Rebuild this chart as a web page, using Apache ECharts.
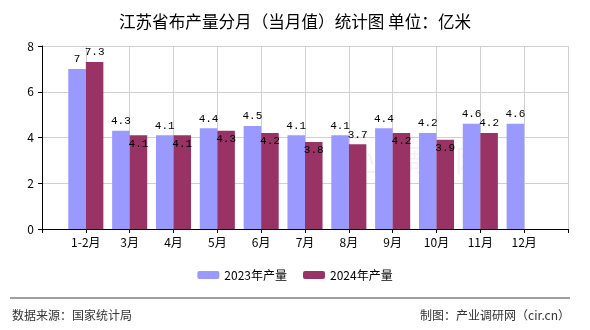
<!DOCTYPE html>
<html>
<head>
<meta charset="utf-8">
<script src="https://cdn.jsdelivr.net/npm/echarts@6/dist/echarts.min.js"></script>
<style>
  html, body { margin: 0; padding: 0; background: #fff; }
  #chart { width: 590px; height: 330px; }
</style>
</head>
<body>
<div id="chart"></div>
<script>
// Monthly cloth output of Jiangsu province (100 million metres)
const months = ['1-2月', '3月', '4月', '5月', '6月', '7月', '8月', '9月', '10月', '11月', '12月'];
const output2023 = [7, 4.3, 4.1, 4.4, 4.5, 4.1, 4.1, 4.4, 4.2, 4.6, 4.6];
const output2024 = [7.3, 4.1, 4.1, 4.3, 4.2, 3.8, 3.7, 4.2, 3.9, 4.2, null];
const yTicks = [0, 2, 4, 6, 8];

const cjk = '"Noto Sans CJK SC", "Noto Sans", sans-serif';
const mono = '"Liberation Mono", "DejaVu Sans Mono", monospace';

// Empty slots at both ends so the months sit between grid lines
const axisCats = [''].concat(months, ['']);
const pad = arr => [null].concat(arr, [null]);

// The 2024 label sits above its bar when there is room, otherwise just inside it
const data2024 = pad(output2024).map((v, i) => {
  if (v == null) return null;
  const ref = output2023[i - 1];
  const above = v > ref || (ref - v) >= 0.4 - 1e-9;
  return {
    value: v,
    label: above ? { position: 'top', distance: 4 } : { position: 'insideTop', distance: 3 }
  };
});

const labelStyle = { show: true, color: '#000', fontFamily: mono, fontSize: 11 };

const chart = echarts.init(document.getElementById('chart'), null, { renderer: 'canvas' });
chart.setOption({
  animation: false,
  title: {
    text: '江苏省布产量分月（当月值）统计图 单位：亿米',
    left: 'center',
    top: 8,
    textStyle: { fontFamily: cjk, fontSize: 16.6, fontWeight: 'normal', color: '#000' }
  },
  legend: {
    bottom: 44,
    left: 'center',
    itemWidth: 22,
    itemHeight: 8,
    itemGap: 16,
    textStyle: { fontFamily: cjk, fontSize: 12, color: '#000' },
    data: ['2023年产量', '2024年产量']
  },
  grid: { left: 42, right: 22, top: 46, bottom: 101 },
  xAxis: {
    type: 'category',
    data: axisCats,
    boundaryGap: false,
    axisLine: { lineStyle: { color: '#000', width: 1 } },
    axisTick: { show: true, length: 4, lineStyle: { color: '#000' } },
    axisLabel: { interval: 0, color: '#000', fontFamily: cjk, fontSize: 12, margin: 7 },
    splitLine: { show: true, lineStyle: { color: '#d0d0d0' } }
  },
  yAxis: {
    type: 'value',
    min: yTicks[0],
    max: yTicks[yTicks.length - 1],
    interval: yTicks[1] - yTicks[0],
    axisLine: { show: true, lineStyle: { color: '#000' } },
    axisTick: { show: true, length: 4, lineStyle: { color: '#000' } },
    axisLabel: { color: '#000', fontFamily: cjk, fontSize: 12, margin: 8 },
    splitLine: { show: true, lineStyle: { color: '#d0d0d0' } }
  },
  series: [
    {
      name: '2023年产量',
      type: 'bar',
      data: pad(output2023),
      barGap: '0%',
      barCategoryGap: '20%',
      itemStyle: { color: '#9999ff' },
      label: Object.assign({ position: 'top', distance: 4 }, labelStyle)
    },
    {
      name: '2024年产量',
      type: 'bar',
      data: data2024,
      barGap: '0%',
      barCategoryGap: '20%',
      itemStyle: { color: '#993366' },
      label: labelStyle
    }
  ],
  graphic: [
    {
      type: 'text',
      left: 335, top: 145,
      silent: true,
      style: { text: '产业调研网', fill: 'rgba(153,51,102,0.07)', font: '30px ' + cjk }
    },
    {
      type: 'line',
      shape: { x1: 10, y1: 298, x2: 570, y2: 298 },
      style: { stroke: '#808080', lineWidth: 1.5 }
    },
    {
      type: 'text',
      left: 12, top: 309,
      style: { text: '数据来源：国家统计局', fill: '#333', font: '12px ' + cjk }
    },
    {
      type: 'text',
      right: 20, top: 309,
      style: { text: '制图：产业调研网（cir.cn）', fill: '#333', font: '12px ' + cjk }
    }
  ]
});
</script>
</body>
</html>
